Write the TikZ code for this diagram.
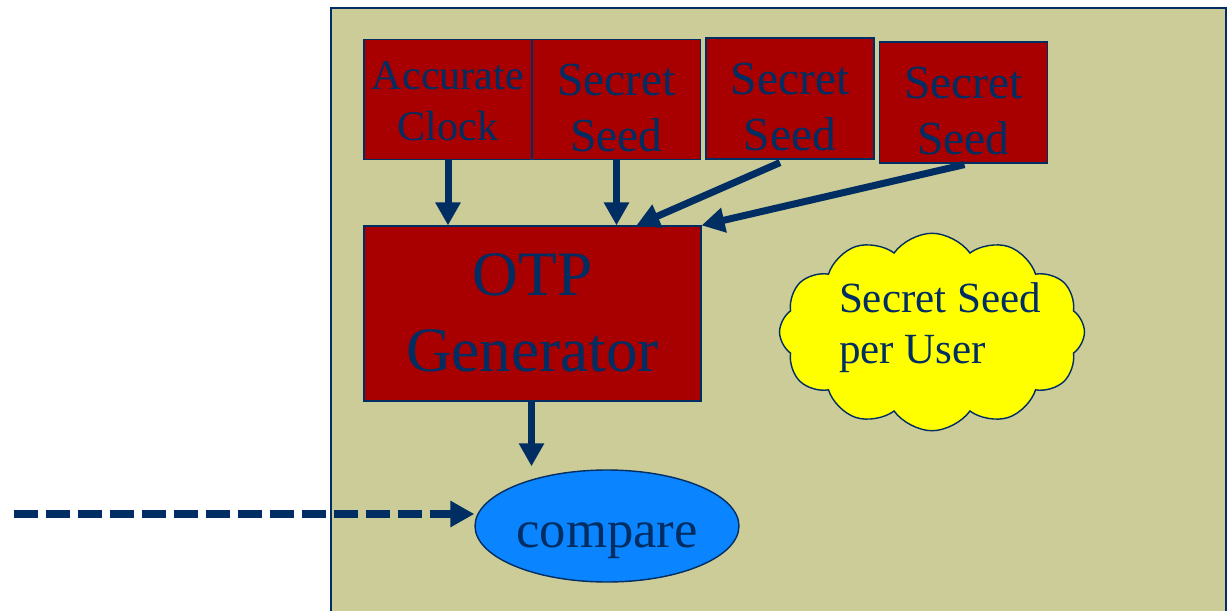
\documentclass[tikz,border=0pt]{standalone}
\usepackage{fontspec}
\setmainfont{Liberation Serif}
\usetikzlibrary{shapes.symbols,shapes.geometric,arrows.meta,calc}
\definecolor{panel}{RGB}{204,204,153}
\definecolor{boxred}{RGB}{168,0,0}
\definecolor{navy}{RGB}{0,45,98}
\definecolor{cmpblue}{RGB}{10,132,255}
\definecolor{cloudyellow}{RGB}{255,255,0}
% move the ink of a label without changing the box it occupies
\newcommand\nudge[3]{\raisebox{#2}[\height][\depth]{\hspace*{#1}#3\hspace*{-#1}}}
\newcommand\lines[2]{\begin{tabular}{@{}#1@{}}#2\end{tabular}}
\tikzset{
  inbox/.style={draw=navy, line width=0.7pt, fill=boxred, text=navy,
    minimum width=3.37cm, minimum height=2.39cm, inner sep=0pt,
    font=\fontsize{27}{32}\selectfont},
  flow/.style={draw=navy, line width=0.14cm,
    -{Triangle[length=0.46cm,width=0.48cm]}},
}
\begin{document}
\begin{tikzpicture}[x=0.02cm,y=-0.02cm]
\useasboundingbox (0,0) rectangle (1230,611);
% background panel
\begin{scope}
\clip (0,0) rectangle (1230,611);
\draw[draw=navy, line width=0.8pt, fill=panel] (331,8) rectangle (1226,640);
\end{scope}

% input blocks
\node[inbox, font=\fontsize{24}{29}\selectfont, minimum width=3.36cm] (clock) at (448,99.5)
  {\nudge{0cm}{-0.1cm}{\lines{c}{Accurate\\Clock}}};
\node[inbox] (seedA) at (616.5,99.5)
  {\nudge{0cm}{-0.26cm}{\lines{c}{Secret\\Seed}}};
\node[inbox, minimum width=3.36cm, minimum height=2.42cm] (seedB) at (790,98.5)
  {\nudge{0cm}{-0.26cm}{\lines{c}{Secret\\Seed}}};
\node[inbox, minimum height=2.42cm] (seedC) at (963.5,102.5)
  {\nudge{0cm}{-0.25cm}{\lines{c}{Secret\\Seed}}};

% generator
\node[inbox, minimum width=6.74cm, minimum height=3.5cm,
  font=\fontsize{36}{43}\selectfont] (otp) at (532.5,313.5)
  {\nudge{0cm}{-0.1cm}{\lines{c}{OTP\\Generator}}};

% comparison
\node[ellipse, draw=navy, line width=0.8pt, fill=cmpblue, text=navy,
  minimum width=5.28cm, minimum height=2.24cm, inner sep=0pt,
  font=\fontsize{30}{34}\selectfont] (cmp) at (607,526)
  {\nudge{0cm}{-0.3cm}{compare}};

% note cloud
\node[cloud, cloud puffs=12, cloud puff arc=110, cloud ignores aspect,
  draw=navy, line width=0.8pt, fill=cloudyellow, text=navy,
  minimum width=6.1cm, minimum height=3.95cm, inner sep=0pt,
  font=\fontsize{24.5}{29}\selectfont] (note) at (932,332)
  {\raisebox{-0.09cm}[0.9cm][0.8cm]{\hspace*{0.16cm}\lines{l}{Secret Seed\\per User}\hspace*{-0.16cm}}};

% connectors
\coordinate (tipB) at ($(otp.north west)+(273,0)$);
\coordinate (srcB) at ($(seedB.south)+(-10,3)$);
\coordinate (srcC) at ($(seedC.south)+(1,1)$);
\coordinate (userin) at (14,514);

\draw[flow] (clock.south) -- (clock.south |- otp.north);
\draw[flow] (seedA.south) -- (seedA.south |- otp.north);
\draw[flow] (srcB) -- (tipB);
\draw[flow] (srcC) -- (otp.north east);
\draw[flow] ($(otp.south)+(-1,0)$) -- ($(otp.south |- cmp.north)+(-1,-3)$);
\draw[draw=navy, line width=0.16cm, dash pattern=on 0.48cm off 0.16cm,
  -{Triangle[length=0.48cm,width=0.5cm]}] (userin) -- (userin -| cmp.west);
\end{tikzpicture}
\end{document}
